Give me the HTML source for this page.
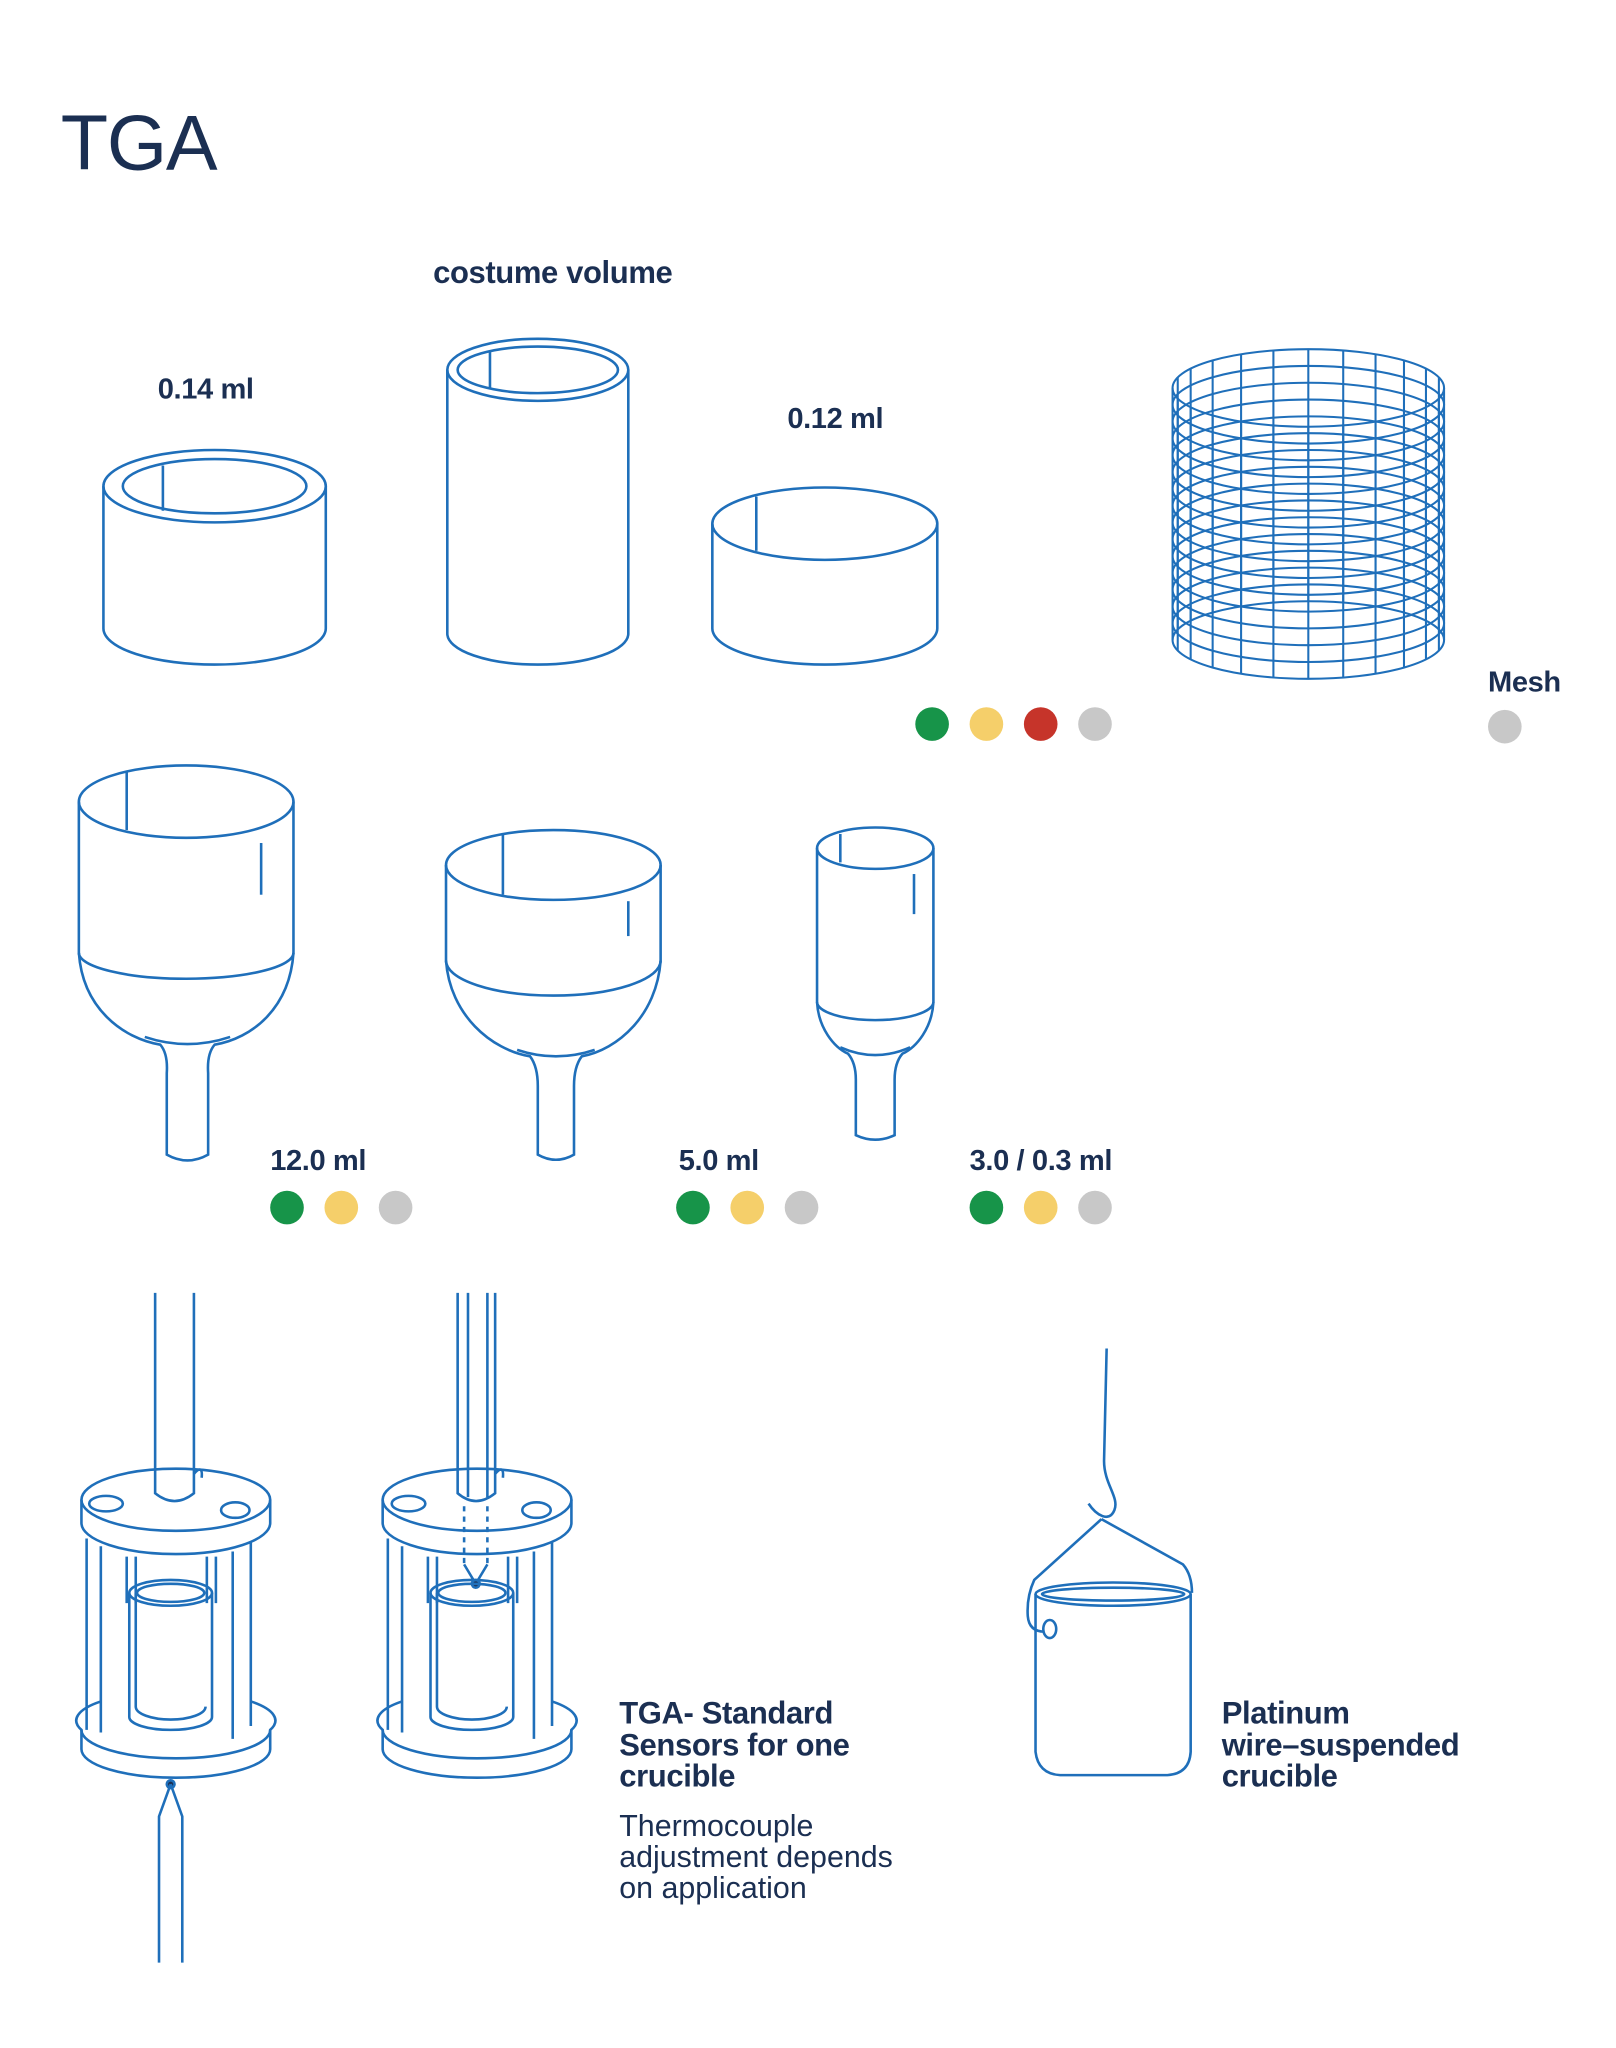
<!DOCTYPE html>
<html><head><meta charset="utf-8"><style>
html,body{margin:0;padding:0;background:#fff;}
svg{display:block;}
text{font-family:"Liberation Sans",sans-serif;fill:#1b2f52;}
.b{font-weight:bold;font-size:22.5px;letter-spacing:-0.3px;}
.t{font-weight:bold;font-size:24px;letter-spacing:-0.3px;}
.l{font-size:23.5px;}
</style></head><body>
<svg width="1616" height="2048" viewBox="0 0 1250 1584" xmlns="http://www.w3.org/2000/svg">
<text x="47" y="131" style="font-size:60px;letter-spacing:-1px">TGA</text>
<text class="t" x="335" y="219">costume volume</text>
<text class="b" x="122" y="308">0.14 ml</text>
<text class="b" x="609" y="331">0.12 ml</text>
<text class="b" x="1151" y="535">Mesh</text>
<text class="b" x="209" y="905">12.0 ml</text>
<text class="b" x="525" y="905">5.0 ml</text>
<text class="b" x="750" y="905">3.0 / 0.3 ml</text>

<g fill="none" stroke="#1f6fba" stroke-width="2">
<!-- cyl1 -->
<ellipse cx="166" cy="376" rx="86" ry="28"/><ellipse cx="166" cy="376" rx="71" ry="21"/>
<line x1="126" y1="360" x2="126" y2="395"/>
<path d="M80,376 V486 A86,28 0 0 0 252,486 V376"/>
<!-- cyl2 -->
<ellipse cx="416" cy="286" rx="70" ry="24"/><ellipse cx="416" cy="286" rx="62" ry="18"/>
<line x1="379" y1="272" x2="379" y2="300"/>
<path d="M346,286 V490 A70,24 0 0 0 486,490 V286"/>
<!-- cyl3 -->
<ellipse cx="638" cy="405" rx="87" ry="28"/>
<line x1="585" y1="384" x2="585" y2="426"/>
<path d="M551,405 V486 A87,28 0 0 0 725,486 V405"/>
<!-- mesh -->
<g stroke-width="1.6">
<ellipse cx="1012" cy="300" rx="105" ry="30"/><ellipse cx="1012" cy="313" rx="105" ry="30"/><ellipse cx="1012" cy="326" rx="105" ry="30"/><ellipse cx="1012" cy="339" rx="105" ry="30"/><ellipse cx="1012" cy="352" rx="105" ry="30"/><ellipse cx="1012" cy="365" rx="105" ry="30"/><ellipse cx="1012" cy="378" rx="105" ry="30"/><ellipse cx="1012" cy="391" rx="105" ry="30"/><ellipse cx="1012" cy="404" rx="105" ry="30"/><ellipse cx="1012" cy="417" rx="105" ry="30"/><ellipse cx="1012" cy="430" rx="105" ry="30"/><ellipse cx="1012" cy="443" rx="105" ry="30"/><ellipse cx="1012" cy="456" rx="105" ry="30"/><ellipse cx="1012" cy="469" rx="105" ry="30"/><ellipse cx="1012" cy="482" rx="105" ry="30"/><ellipse cx="1012" cy="495" rx="105" ry="30"/>
<line x1="1117" y1="300" x2="1117" y2="495"/><line x1="907" y1="300" x2="907" y2="495"/>
<line x1="1113" y1="308" x2="1113" y2="503"/><line x1="1103" y1="315" x2="1103" y2="510"/><line x1="1086" y1="321" x2="1086" y2="516"/><line x1="1064" y1="326" x2="1064" y2="521"/><line x1="1039" y1="329" x2="1039" y2="524"/><line x1="1012" y1="330" x2="1012" y2="525"/><line x1="985" y1="329" x2="985" y2="524"/><line x1="960" y1="326" x2="960" y2="521"/><line x1="938" y1="321" x2="938" y2="516"/><line x1="921" y1="315" x2="921" y2="510"/><line x1="911" y1="308" x2="911" y2="503"/>
<line x1="1113" y1="292" x2="1113" y2="487"/><line x1="1103" y1="285" x2="1103" y2="480"/><line x1="1086" y1="279" x2="1086" y2="474"/><line x1="1064" y1="274" x2="1064" y2="469"/><line x1="1039" y1="271" x2="1039" y2="466"/><line x1="1012" y1="270" x2="1012" y2="465"/><line x1="985" y1="271" x2="985" y2="466"/><line x1="960" y1="274" x2="960" y2="469"/><line x1="938" y1="279" x2="938" y2="474"/><line x1="921" y1="285" x2="921" y2="480"/><line x1="911" y1="292" x2="911" y2="487"/>
</g>
<!-- funnel1 -->
<ellipse cx="144" cy="620" rx="83" ry="28"/>
<line x1="98" y1="597" x2="98" y2="642"/><line x1="202" y1="652" x2="202" y2="692"/>
<path d="M61,620 V737 A83,20 0 0 0 227,737 V620"/>
<path d="M61,737 C64,780 95,803 124,808 Q130,815 129,830 V893 Q145,902 161,893 V830 Q160,815 166,808 C195,803 224,780 227,737"/>
<path d="M112,802 Q145,813 178,802"/>
<!-- funnel2 -->
<ellipse cx="428" cy="669" rx="83" ry="27"/>
<line x1="389" y1="645" x2="389" y2="692"/><line x1="486" y1="697" x2="486" y2="724"/>
<path d="M345,669 V743 A83,27 0 0 0 511,743 V669"/>
<path d="M345,743 C348,785 380,812 410,817 Q416,825 416,840 V893 Q430,901 444,893 V840 Q444,825 450,817 C478,812 508,785 511,743"/>
<path d="M400,812 Q430,822 460,812"/>
<!-- funnel3 -->
<ellipse cx="677" cy="656" rx="45" ry="16"/>
<line x1="650" y1="645" x2="650" y2="667"/><line x1="707" y1="676" x2="707" y2="707"/>
<path d="M632,656 V775 A45,14 0 0 0 722,775 V656"/>
<path d="M632,775 C633,795 645,810 656,815 Q662,822 662,835 V878 Q677,885 692,878 V835 Q692,822 698,815 C709,810 721,795 722,775"/>
<path d="M650,810 Q677,822 704,810"/>

<!-- sensor 1 -->
<path d="M120,1000 V1155 Q135,1167 150,1155 V1000"/>
<path d="M63,1160 A73,24 0 0 1 209,1160 A73,24 0 0 1 63,1160 Z"/>
<path d="M63,1160 V1178 A73,24 0 0 0 209,1178 V1160"/>
<ellipse cx="82" cy="1163" rx="13" ry="6"/><ellipse cx="182" cy="1168" rx="11" ry="6"/><path d="M150,1140 Q157,1132 156,1143"/>
<path d="M67,1190 V1338 M78,1196 V1340 M180,1200 V1345 M194,1192 V1335 M98,1204 V1240 M105,1204 V1240 M160,1204 V1240 M167,1204 V1240"/>
<ellipse cx="132" cy="1232" rx="32" ry="10"/><ellipse cx="132" cy="1232" rx="26" ry="7"/>
<path d="M100,1232 V1328 A32,10 0 0 0 164,1328 V1232"/>
<path d="M105,1232 V1320 A27,10 0 0 0 159,1320"/>
<path d="M78,1316 A73,22 0 0 0 63,1338 A73,22 0 0 0 209,1338 A73,22 0 0 0 194,1316"/>
<path d="M63,1338 V1353 A73,22 0 0 0 209,1353 V1338"/>
<circle cx="132" cy="1380" r="3" fill="#1b2f52"/>
<path d="M132,1380 L123,1405 V1518 M132,1380 L141,1405 V1518"/>
<!-- sensor 2 -->
<path d="M354,1000 V1155 Q368,1167 383,1155 V1000 M362,1000 V1158 M377,1000 V1158"/>
<path d="M296,1160 A73,24 0 0 1 442,1160 A73,24 0 0 1 296,1160 Z"/>
<path d="M296,1160 V1178 A73,24 0 0 0 442,1178 V1160"/>
<ellipse cx="316" cy="1163" rx="13" ry="6"/><ellipse cx="415" cy="1168" rx="11" ry="6"/><path d="M383,1140 Q390,1132 389,1143"/>
<path d="M359,1165 V1210 M377,1165 V1210" stroke-dasharray="4,4"/>
<path d="M359,1210 L368,1225 L377,1210"/>
<circle cx="368" cy="1225" r="3" fill="#1b2f52"/>
<path d="M300,1190 V1338 M311,1196 V1340 M413,1200 V1345 M427,1192 V1335 M331,1204 V1240 M338,1204 V1240 M393,1204 V1240 M400,1204 V1240"/>
<ellipse cx="365" cy="1232" rx="32" ry="10"/><ellipse cx="365" cy="1232" rx="26" ry="7"/>
<path d="M333,1232 V1328 A32,10 0 0 0 397,1328 V1232"/>
<path d="M338,1232 V1320 A27,10 0 0 0 392,1320"/>
<path d="M311,1316 A73,22 0 0 0 296,1338 A73,22 0 0 0 442,1338 A73,22 0 0 0 427,1316"/>
<path d="M296,1338 V1353 A73,22 0 0 0 442,1353 V1338"/>
<!-- platinum -->
<path d="M856,1043 L854,1130 C854,1148 866,1158 862,1168 C858,1178 848,1172 842,1163"/>
<path d="M852,1175 L800,1222 Q794,1235 795,1250 Q796,1262 808,1262"/>
<path d="M852,1175 L915,1210 Q922,1218 922,1232"/>
<ellipse cx="861" cy="1233" rx="60" ry="9"/><ellipse cx="861" cy="1233" rx="55" ry="5"/>
<path d="M801,1233 V1355 Q803,1372 820,1373 H903 Q920,1372 921,1355 V1233"/>
<ellipse cx="812" cy="1260" rx="5" ry="7"/>
</g>

<g>
<circle cx="721" cy="560" r="13" fill="#179449"/><circle cx="763" cy="560" r="13" fill="#f5cf6a"/><circle cx="805" cy="560" r="13" fill="#c6342a"/><circle cx="847" cy="560" r="13" fill="#c8c8c8"/>
<circle cx="1164" cy="562" r="13" fill="#c8c8c8"/>
<circle cx="222" cy="934" r="13" fill="#179449"/><circle cx="264" cy="934" r="13" fill="#f5cf6a"/><circle cx="306" cy="934" r="13" fill="#c8c8c8"/>
<circle cx="536" cy="934" r="13" fill="#179449"/><circle cx="578" cy="934" r="13" fill="#f5cf6a"/><circle cx="620" cy="934" r="13" fill="#c8c8c8"/>
<circle cx="763" cy="934" r="13" fill="#179449"/><circle cx="805" cy="934" r="13" fill="#f5cf6a"/><circle cx="847" cy="934" r="13" fill="#c8c8c8"/>
</g>

<text class="t" x="479" y="1333">TGA- Standard</text>
<text class="t" x="479" y="1358">Sensors for one</text>
<text class="t" x="479" y="1382">crucible</text>
<text class="l" x="479" y="1420">Thermocouple</text>
<text class="l" x="479" y="1444">adjustment depends</text>
<text class="l" x="479" y="1468">on application</text>
<text class="t" x="945" y="1333">Platinum</text>
<text class="t" x="945" y="1358">wire–suspended</text>
<text class="t" x="945" y="1382">crucible</text>
</svg>
</body></html>
